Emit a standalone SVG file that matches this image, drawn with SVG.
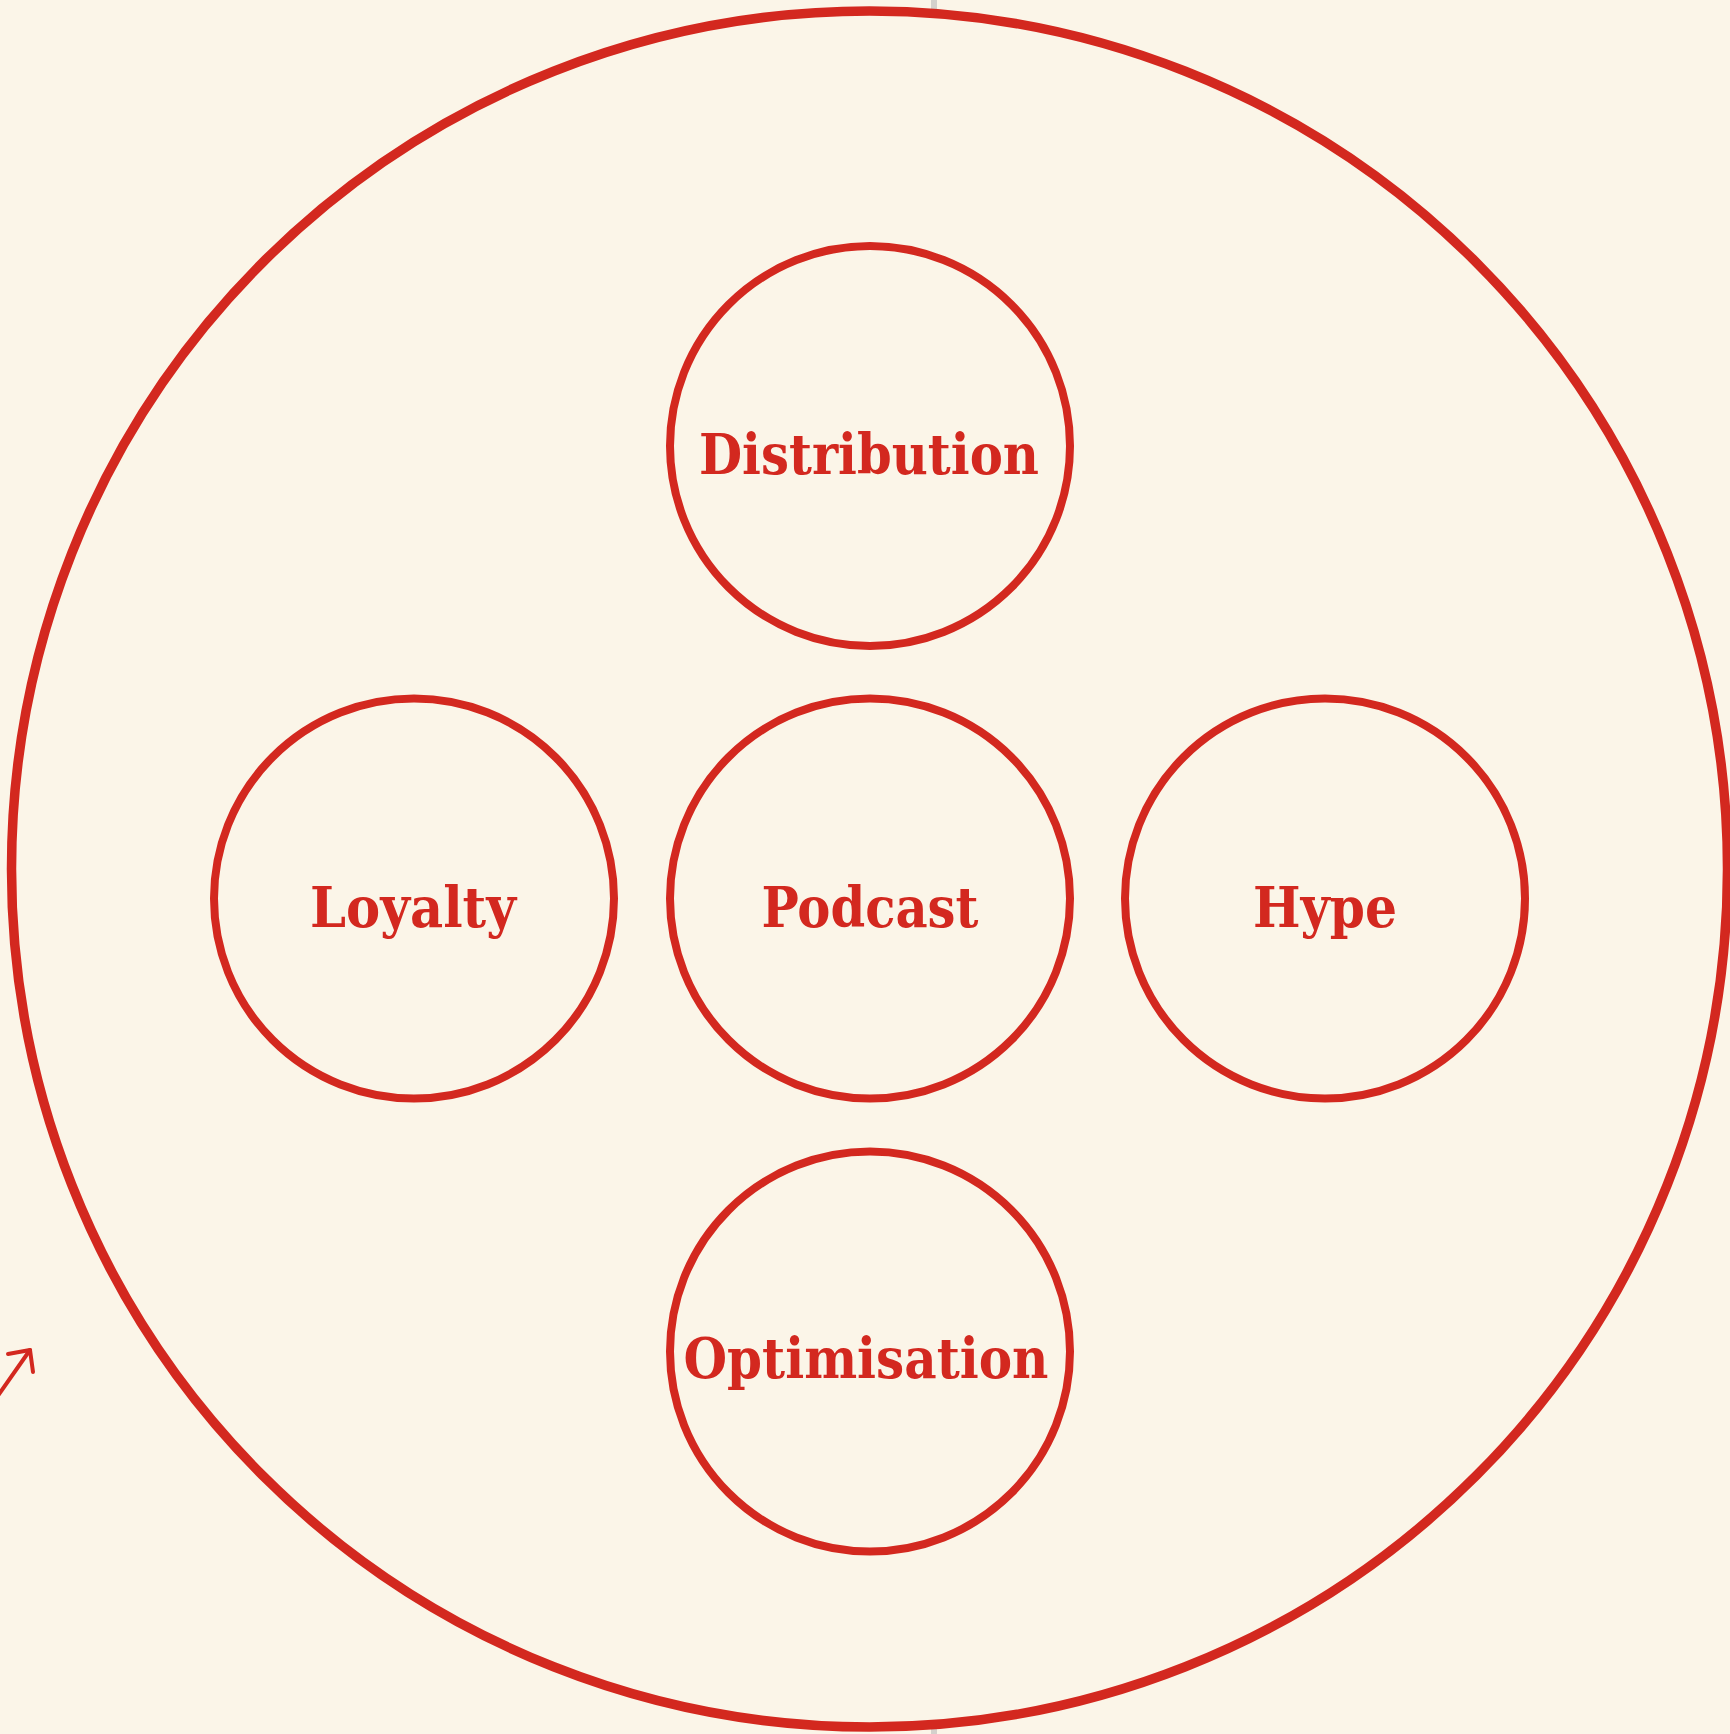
<svg xmlns="http://www.w3.org/2000/svg" width="1730" height="1734" viewBox="0 0 1730 1734">
  <defs>
    <style>
      .ring { fill: #FBF5E8; stroke: #D3281F; stroke-width: 8; }
      .outer { fill: #FBF5E8; stroke: #D3281F; stroke-width: 9.5; }
      .label { font-family: "DejaVu Serif Condensed", "DejaVu Serif", serif; font-weight: bold; font-size: 56px; fill: #D3281F; text-anchor: middle; }
      .link { fill: none; stroke: #D3281F; stroke-width: 4; stroke-linecap: round; stroke-linejoin: round; }
    </style>
  </defs>

  <!-- page background -->
  <rect x="0" y="0" width="1730" height="1734" fill="#FBF5E8"/>
  <!-- thin grey guide behind the frame -->
  <rect x="931" y="0" width="6" height="1734" fill="#D4D1CC"/>

  <!-- enclosing frame -->
  <g id="frame">
    <circle class="outer" cx="869.5" cy="869" r="858"/>
  </g>

  <!-- connectors -->
  <g id="connectors">
    <path class="link" d="M -12 1410 L 30 1350"/>
    <path class="link" d="M 8 1354 L 30 1350 L 33 1372"/>
  </g>

  <!-- nodes -->
  <g id="node-distribution">
    <circle class="ring" cx="870" cy="446" r="200"/>
    <text class="label" x="869" y="474" textLength="340" lengthAdjust="spacingAndGlyphs">Distribution</text>
  </g>
  <g id="node-loyalty">
    <circle class="ring" cx="414" cy="898.5" r="200"/>
    <text class="label" x="413" y="927" textLength="206" lengthAdjust="spacingAndGlyphs">Loyalty</text>
  </g>
  <g id="node-podcast">
    <circle class="ring" cx="870" cy="898.5" r="200"/>
    <text class="label" x="870" y="927" textLength="217" lengthAdjust="spacingAndGlyphs">Podcast</text>
  </g>
  <g id="node-hype">
    <circle class="ring" cx="1325" cy="898.5" r="200"/>
    <text class="label" x="1325" y="927" textLength="144" lengthAdjust="spacingAndGlyphs">Hype</text>
  </g>
  <g id="node-optimisation">
    <circle class="ring" cx="870" cy="1351.5" r="200"/>
    <text class="label" x="866" y="1378" textLength="365" lengthAdjust="spacingAndGlyphs">Optimisation</text>
  </g>
</svg>
